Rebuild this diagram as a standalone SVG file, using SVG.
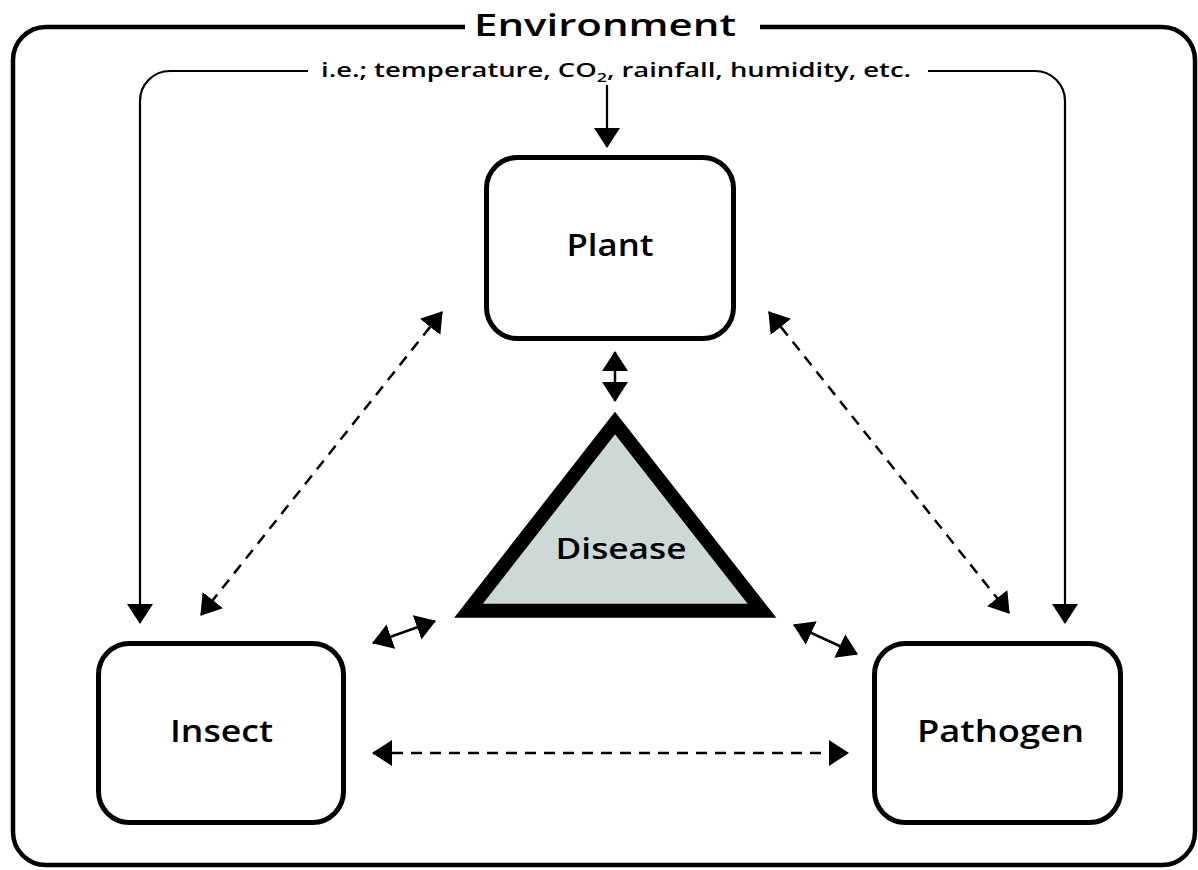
<svg xmlns="http://www.w3.org/2000/svg" width="1198" height="870" viewBox="0 0 1198 870">
<style>
.lbl{font-family:"Open Sans","Liberation Sans",sans-serif;font-weight:600;fill:#000;}
.box{fill:#fff;stroke:#000;stroke-width:5;}
.frame{fill:none;stroke:#000;stroke-width:4.5;}
.solid{fill:none;stroke:#000;stroke-width:2.2;}
.dash{fill:none;stroke:#000;stroke-width:2.5;stroke-dasharray:11 8;}
.bi{fill:none;stroke:#000;stroke-width:2.5;}
</style>
<defs>
<marker id="ah" viewBox="0 0 20 26" refX="19" refY="13" markerWidth="20" markerHeight="26" markerUnits="userSpaceOnUse" orient="auto-start-reverse">
<path d="M0,0 L20,13 L0,26 z" fill="#000"/>
</marker>
</defs>
<rect width="1198" height="870" fill="#fff"/>
<g id="environment">
<path class="frame" d="M465,27 H46 A33,33 0 0 0 13,60 V832 A33,33 0 0 0 46,865 H1162 A33,33 0 0 0 1195,832 V60 A33,33 0 0 0 1162,27 H760"/>
<text class="lbl" x="605" y="36" font-size="30" text-anchor="middle" textLength="262" lengthAdjust="spacingAndGlyphs">Environment</text>
<text class="lbl" x="616" y="77" font-size="20" text-anchor="middle" textLength="590" lengthAdjust="spacingAndGlyphs">i.e.; temperature, CO<tspan font-size="13" dy="5">2</tspan><tspan dy="-5">, rainfall, humidity, etc.</tspan></text>
</g>
<g id="plant">
<rect class="box" x="486.5" y="157.5" width="247" height="181" rx="31"/>
<text class="lbl" x="610" y="256" font-size="31" text-anchor="middle" textLength="87" lengthAdjust="spacingAndGlyphs">Plant</text>
</g>
<g id="disease">
<polygon points="615,423 468.5,610.8 762,610.8" fill="#ccd9d6" stroke="#000" stroke-width="14" stroke-linejoin="miter" stroke-miterlimit="10"/>
<text class="lbl" x="621" y="559" font-size="29.5" text-anchor="middle" textLength="131" lengthAdjust="spacingAndGlyphs">Disease</text>
</g>
<g id="insect">
<rect class="box" x="98.5" y="643.5" width="245" height="179" rx="31"/>
<text class="lbl" x="221.5" y="742" font-size="31" text-anchor="middle" textLength="103" lengthAdjust="spacingAndGlyphs">Insect</text>
</g>
<g id="pathogen">
<rect class="box" x="874.5" y="643.5" width="246" height="179" rx="31"/>
<text class="lbl" x="1000.5" y="742" font-size="31" text-anchor="middle" textLength="167" lengthAdjust="spacingAndGlyphs">Pathogen</text>
</g>
<g id="connectors">
<path class="solid" d="M308,71 H170 A30,30 0 0 0 140,101 V623" marker-end="url(#ah)"/>
<path class="solid" d="M928,71 H1035 A30,30 0 0 1 1065,101 V623" marker-end="url(#ah)"/>
<path class="solid" d="M607,85 V147" marker-end="url(#ah)"/>
<path class="bi" d="M615,352 V401" marker-start="url(#ah)" marker-end="url(#ah)"/>
<path class="dash" d="M442,312 L201,615" marker-start="url(#ah)" marker-end="url(#ah)"/>
<path class="dash" d="M769,312 L1009,613" marker-start="url(#ah)" marker-end="url(#ah)"/>
<path class="bi" d="M373,643 L435,621" marker-start="url(#ah)" marker-end="url(#ah)"/>
<path class="bi" d="M794,625 L857,654" marker-start="url(#ah)" marker-end="url(#ah)"/>
<path class="dash" d="M373,753 L848,753" marker-start="url(#ah)" marker-end="url(#ah)"/>
</g>
</svg>
